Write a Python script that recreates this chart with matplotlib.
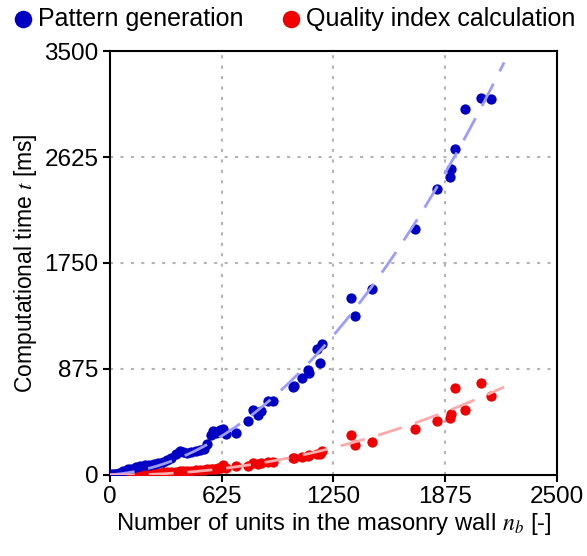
import numpy as np
import matplotlib.pyplot as plt

plt.rcParams['font.family'] = ['Liberation Sans', 'DejaVu Sans']
plt.rcParams['mathtext.fontset'] = 'stix'

# number of units n_b for each test wall
n_units = [10, 30, 50, 75, 100, 120, 145, 170, 195, 220, 245, 270, 295, 320,
           345, 370, 390, 410, 430, 455, 480, 505, 525, 545, 565, 578, 592,
           605, 618, 635, 650, 708, 773, 801, 829, 848, 886, 913, 1022, 1030,
           1072, 1106, 1115, 1156, 1174, 1184, 1350, 1372, 1464, 1704, 1831,
           1902, 1907, 1931, 1987, 2073, 2133]

# computational time [ms] for pattern generation
t_pattern = [4, 10, 18, 30, 45, 50, 62, 70, 78, 85, 90, 98, 110, 125, 140,
             175, 195, 185, 180, 190, 196, 208, 215, 255, 330, 360, 345, 350,
             372, 380, 340, 345, 442, 539, 497, 525, 608, 608, 724, 732, 796,
             862, 843, 1036, 920, 1078, 1457, 1308, 1534, 2032, 2361, 2457,
             2529, 2689, 3026, 3115, 3101]

# computational time [ms] for quality index calculation
t_quality = [2, 3, 5, 6, 8, 8, 10, 12, 12, 15, 16, 18, 20, 22, 24, 26, 28,
             30, 32, 34, 36, 40, 42, 45, 48, 50, 52, 55, 60, 83, 60, 70, 75,
             97, 90, 95, 105, 102, 138, 140, 147, 158, 160, 170, 174, 193,
             326, 249, 274, 376, 445, 467, 505, 716, 533, 757, 655]

x_ticks = [0, 625, 1250, 1875, 2500]
y_ticks = [0, 875, 1750, 2625, 3500]

blue = '#0000c4'
red = '#f00000'


def fit_through_origin(x, y):
    # least squares for t = a*n^2 + b*n
    x = np.asarray(x, float)
    A = np.column_stack([x ** 2, x])
    coef, *_ = np.linalg.lstsq(A, np.asarray(y, float), rcond=None)
    return coef


fig = plt.figure(figsize=(5.87, 5.56), dpi=100)
ax = fig.add_axes([0.187, 0.146, 0.762, 0.762])

xf = np.linspace(0, 2204, 200)
ab = fit_through_origin(n_units, t_pattern)
aq = fit_through_origin(n_units, t_quality)

ax.scatter(n_units, t_quality, s=55, color=red, zorder=3, linewidths=0,
           label='Quality index calculation')
ax.scatter(n_units, t_pattern, s=55, color=blue, zorder=3, linewidths=0,
           label='Pattern generation')
ax.plot(xf, ab[0] * xf ** 2 + ab[1] * xf, color='#9c9cff', lw=2,
        dashes=(9, 5), zorder=4)
ax.plot(xf, aq[0] * xf ** 2 + aq[1] * xf, color='#ffaaaa', lw=2,
        dashes=(9, 5), zorder=4)

ax.set_xlim(0, 2500)
ax.set_ylim(0, 3500)
ax.set_xticks(x_ticks)
ax.set_yticks(y_ticks)
ax.tick_params(direction='out', length=5, width=1.5, labelsize=17.5, pad=3)
for sp in ax.spines.values():
    sp.set_linewidth(1.5)

# dotted grid on interior ticks only
for xv in x_ticks[1:-1]:
    ax.axvline(xv, color='#b4b4b4', lw=1.5, ls=(0, (1.5, 3.5)), zorder=1)
for yv in y_ticks[1:-1]:
    ax.axhline(yv, color='#b4b4b4', lw=1.5, ls=(0, (1.5, 3.5)), zorder=1)

ax.set_xlabel(r'Number of units in the masonry wall $n_b$ [-]', fontsize=17.2,
              labelpad=2)
ax.set_ylabel(r'Computational time $t$ [ms]', fontsize=16.5, labelpad=4)

h, l = ax.get_legend_handles_labels()
fig.legend(h[::-1], l[::-1], loc='upper center', bbox_to_anchor=(0.502, 0.997),
           ncol=2, frameon=False, fontsize=18, markerscale=1.7,
           handlelength=0.8, handletextpad=0.2, columnspacing=1.5,
           borderaxespad=0.0, borderpad=0.2)

fig.savefig('out.png', dpi=100)
